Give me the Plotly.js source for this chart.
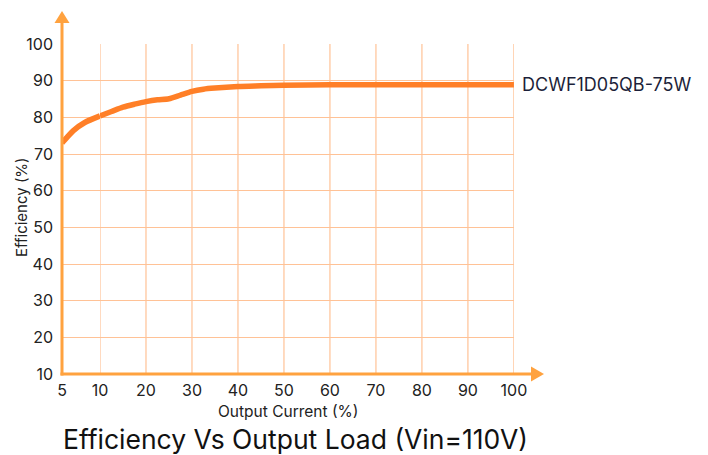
<!DOCTYPE html>
<html>
<head>
<meta charset="utf-8">
<script src="https://cdn.plot.ly/plotly-3.0.1.min.js"></script>
<style>html,body{margin:0;padding:0;background:#fff;}#chart{width:708px;height:455px;}</style>
</head>
<body>
<div id="chart"></div>
<script>
// ---- data ----
const loadPct = [5, 6.5, 8, 10, 12.5, 15, 17.5, 20, 22.5, 25, 27.5, 30, 32.5, 35, 40, 45, 50, 60, 70, 80, 90, 100];
const efficiency = [73.0, 76.4, 78.6, 80.4, 81.6, 82.8, 83.6, 84.3, 84.8, 85.1, 86.1, 87.1, 87.7, 88.0, 88.4, 88.6, 88.8, 88.9, 88.9, 88.9, 88.9, 88.9];
const seriesName = 'DCWF1D05QB-75W';
const xTickVals = [5, 10, 20, 30, 40, 50, 60, 70, 80, 90, 100];
const yTickVals = [10, 20, 30, 40, 50, 60, 70, 80, 90, 100];
const chartTitle = 'Efficiency Vs Output Load (Vin=110V)';
const xTitle = 'Output Current (%)';
const yTitle = 'Efficiency (%)';

// ---- layout geometry (pixels) ----
const W = 708, H = 455;
const L = 62, R = 514, T = 44, B = 374;
const pw = R - L, ph = B - T;
const px = v => (v - L) / pw;          // pixel x -> paper
const py = v => (B - v) / ph;          // pixel y -> paper
const splitPx = 100;                    // where the 10% grid line sits
const d = px(splitPx);

const lineColor = '#FF7F27';
const axisColor = '#FFA23F';
const gridColor = '#FFC296';
const font = 'Inter, "Noto Sans", sans-serif';

// split series at 10% (first segment drawn on a narrow axis, as in the reference)
const seg1x = [], seg1y = [], seg2x = [], seg2y = [];
loadPct.forEach((x, i) => {
  if (x <= 10) { seg1x.push(x); seg1y.push(efficiency[i]); }
  if (x >= 10) { seg2x.push(x); seg2y.push(efficiency[i]); }
});

const lineStyle = {color: lineColor, width: 5.5, shape: 'spline', smoothing: 0.7};
const traces = [
  {x: seg1x, y: seg1y, xaxis: 'x', yaxis: 'y', mode: 'lines', line: lineStyle, name: seriesName, showlegend: false, hoverinfo: 'skip'},
  {x: seg2x, y: seg2y, xaxis: 'x2', yaxis: 'y', mode: 'lines', line: lineStyle, name: seriesName, showlegend: false, hoverinfo: 'skip'}
];

// vertical grid lines at the x tick values (placed through the x2 axis scale)
const vGrid = xTickVals.filter(v => v >= 10).map(v => ({
  type: 'line', xref: 'x2', yref: 'paper', x0: v, x1: v, y0: 0, y1: 1,
  line: {color: gridColor, width: 1.2}, layer: 'below'
}));

const tickFont = {family: font, size: 16, color: '#222222'};
const layout = {
  width: W, height: H,
  margin: {l: L, r: W - R, t: T, b: H - B, pad: 0},
  paper_bgcolor: '#ffffff', plot_bgcolor: 'rgba(0,0,0,0)',
  showlegend: false,
  xaxis: {
    domain: [0, d], range: [5, 10], tickmode: 'array', tickvals: [xTickVals[0]],
    showgrid: false, zeroline: false, showline: false, ticks: '', tickfont: tickFont,
    ticklabelstandoff: 5, anchor: 'y', fixedrange: true
  },
  xaxis2: {
    domain: [d, 1], range: [10, 100.02], tickmode: 'array', tickvals: xTickVals.slice(1),
    showgrid: false, zeroline: false, showline: false,
    ticks: '', tickfont: tickFont, ticklabelstandoff: 5, anchor: 'y', fixedrange: true
  },
  yaxis: {
    range: [10, 100.02], tickmode: 'array', tickvals: yTickVals,
    showgrid: true, gridcolor: gridColor, gridwidth: 1, zeroline: false, showline: false,
    ticks: '', tickfont: tickFont, ticklabelstandoff: 8, anchor: 'x', fixedrange: true
  },
  shapes: vGrid.concat([
    {type: 'line', xref: 'paper', yref: 'paper', x0: px(L - 1.5), x1: px(533), y0: 0, y1: 0,
     line: {color: axisColor, width: 3}, layer: 'above'},
    {type: 'path', xref: 'paper', yref: 'paper',
     path: `M ${px(531)} ${py(B - 7.5)} L ${px(544)} ${py(B)} L ${px(531)} ${py(B + 7.5)} Z`,
     fillcolor: axisColor, line: {color: axisColor, width: 0}, layer: 'above'},
    {type: 'line', xref: 'paper', yref: 'paper', x0: 0, x1: 0, y0: py(B + 1.5), y1: py(22),
     line: {color: axisColor, width: 3}, layer: 'above'},
    {type: 'path', xref: 'paper', yref: 'paper',
     path: `M ${px(L - 7.5)} ${py(23)} L ${px(L)} ${py(11)} L ${px(L + 7.5)} ${py(23)} Z`,
     fillcolor: axisColor, line: {color: axisColor, width: 0}, layer: 'above'}
  ]),
  annotations: [
    {text: seriesName, xref: 'x2', yref: 'y', x: loadPct[loadPct.length - 1], y: efficiency[efficiency.length - 1],
     xanchor: 'left', yanchor: 'middle', xshift: 6, showarrow: false,
     font: {family: font, size: 18, color: '#1c1f3a'}},
    {text: xTitle, xref: 'paper', yref: 'paper', x: 0.5, y: py(411), xanchor: 'center', yanchor: 'middle',
     showarrow: false, font: {family: font, size: 15.5, color: '#222222'}},
    {text: yTitle, xref: 'paper', yref: 'paper', x: px(21), y: py(207), xanchor: 'center', yanchor: 'middle',
     textangle: -90, showarrow: false, font: {family: font, size: 15, color: '#222222'}},
    {text: chartTitle, xref: 'paper', yref: 'paper', x: px(295.5), y: py(439), xanchor: 'center', yanchor: 'middle',
     showarrow: false, borderpad: 0, font: {family: font, size: 26.5, color: '#111111'}}
  ]
};

Plotly.newPlot('chart', traces, layout, {displayModeBar: false, staticPlot: true});
</script>
</body>
</html>
